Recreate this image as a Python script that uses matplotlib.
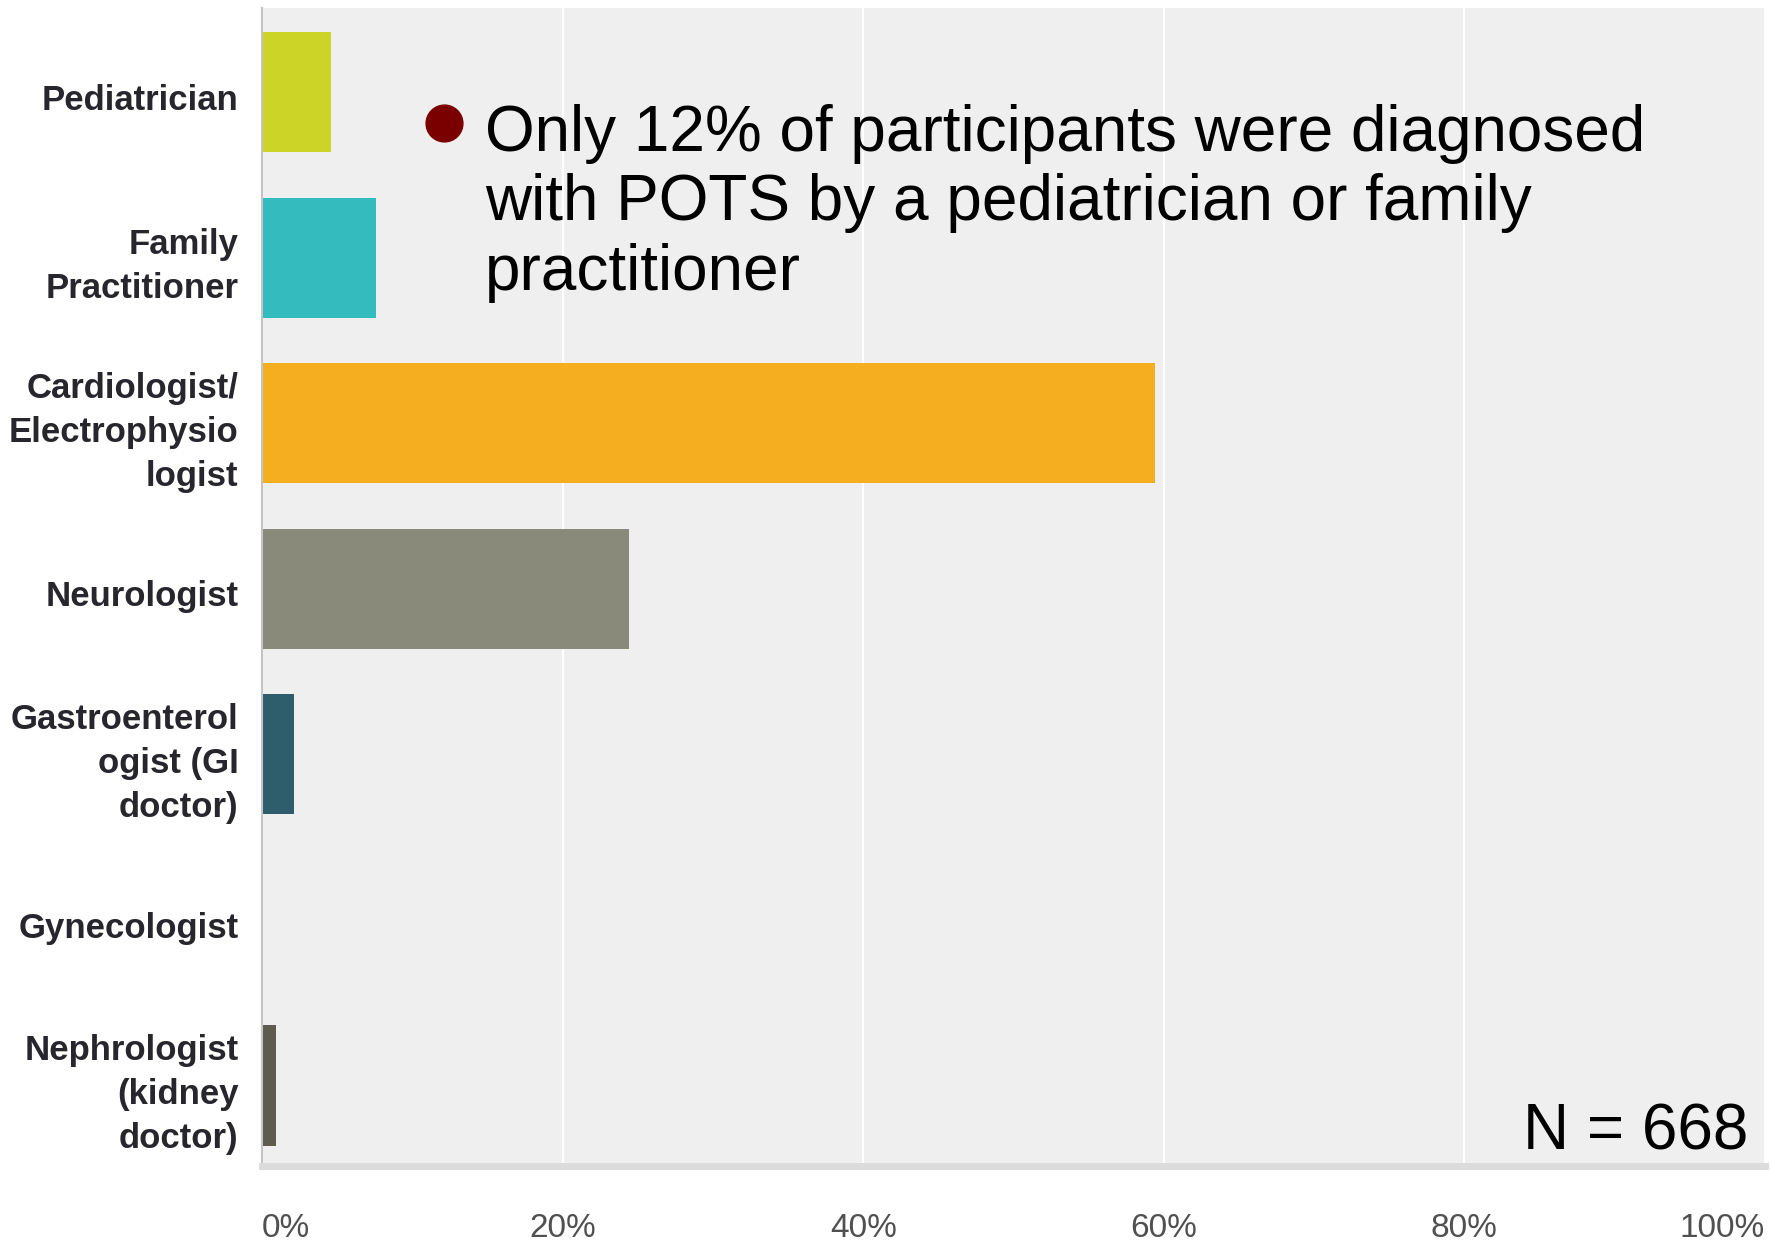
import matplotlib.pyplot as plt
from matplotlib.transforms import ScaledTranslation

plt.rcParams['font.family'] = ['Liberation Sans', 'DejaVu Sans']

# who diagnosed POTS (% of participants)
specialties = [
    "Pediatrician",
    "Family\nPractitioner",
    "Cardiologist/\nElectrophysio\nlogist",
    "Neurologist",
    "Gastroenterol\nogist (GI\ndoctor)",
    "Gynecologist",
    "Nephrologist\n(kidney\ndoctor)",
]
percent = [4.6, 7.6, 59.4, 24.4, 2.1, 0.0, 0.9]
bar_colors = ["#cdd428", "#33bbbd", "#f5ae20", "#898a79", "#2e5e6c", "#c9c9c9", "#5d5c4f"]
xticks = [0, 20, 40, 60, 80, 100]
xtick_labels = ["0%", "20%", "40%", "60%", "80%", "100%"]
note = "Only 12% of participants were diagnosed\nwith POTS by a pediatrician or family\npractitioner"
n_label = "N = 668"

W, H = 1770, 1246
fig = plt.figure(figsize=(W / 100, H / 100), dpi=100)
ax = fig.add_axes([262 / W, 80 / H, (1765 - 262) / W, (1166 - 8) / H])
ax.set_facecolor("#efefef")

ypos = list(range(len(specialties)))
ax.barh(ypos, percent, height=0.725, color=bar_colors, zorder=2)

ax.set_xlim(0, 100)
ax.set_ylim(6.486, -0.507)

ax.grid(axis="x", color="white", linewidth=1.6, zorder=1)
ax.grid(axis="y", visible=False)
ax.set_axisbelow(True)

for s in ["top", "right"]:
    ax.spines[s].set_visible(False)
ax.spines["left"].set_color("#c4c4c4")
ax.spines["left"].set_linewidth(1.5)
ax.spines["bottom"].set_color("#dcdcdc")
ax.spines["bottom"].set_linewidth(5)

ax.set_yticks(ypos, specialties)
ax.tick_params(axis="y", length=0, pad=17, labelsize=25, labelcolor="#26262c")
# single-line labels sit a little below the bar centre
shift = ScaledTranslation(0, -3.3 / 72, fig.dpi_scale_trans)
for lbl in ax.get_yticklabels():
    lbl.set_fontweight("bold")
    lbl.set_linespacing(1.42)
    if "\n" not in lbl.get_text():
        lbl.set_transform(lbl.get_transform() + shift)

ax.set_xticks(xticks, xtick_labels)
ax.tick_params(axis="x", length=0, pad=34, labelsize=24, labelcolor="#505050")
xl = ax.get_xticklabels()
xl[0].set_horizontalalignment("left")
xl[-1].set_horizontalalignment("right")

# bullet + note
fig.add_artist(plt.Line2D([444 / W], [1 - 123 / H], marker="o", markersize=26.5,
                          color="#7a0000", linestyle="none"))
fig.text(485 / W, 1 - 104 / H, note, fontsize=46, va="top", ha="left",
         color="black", linespacing=1.2)
fig.text(1748 / W, 1 - 1150 / H, n_label, fontsize=46, va="baseline", ha="right",
         color="black")

fig.savefig("out.png", dpi=100)
